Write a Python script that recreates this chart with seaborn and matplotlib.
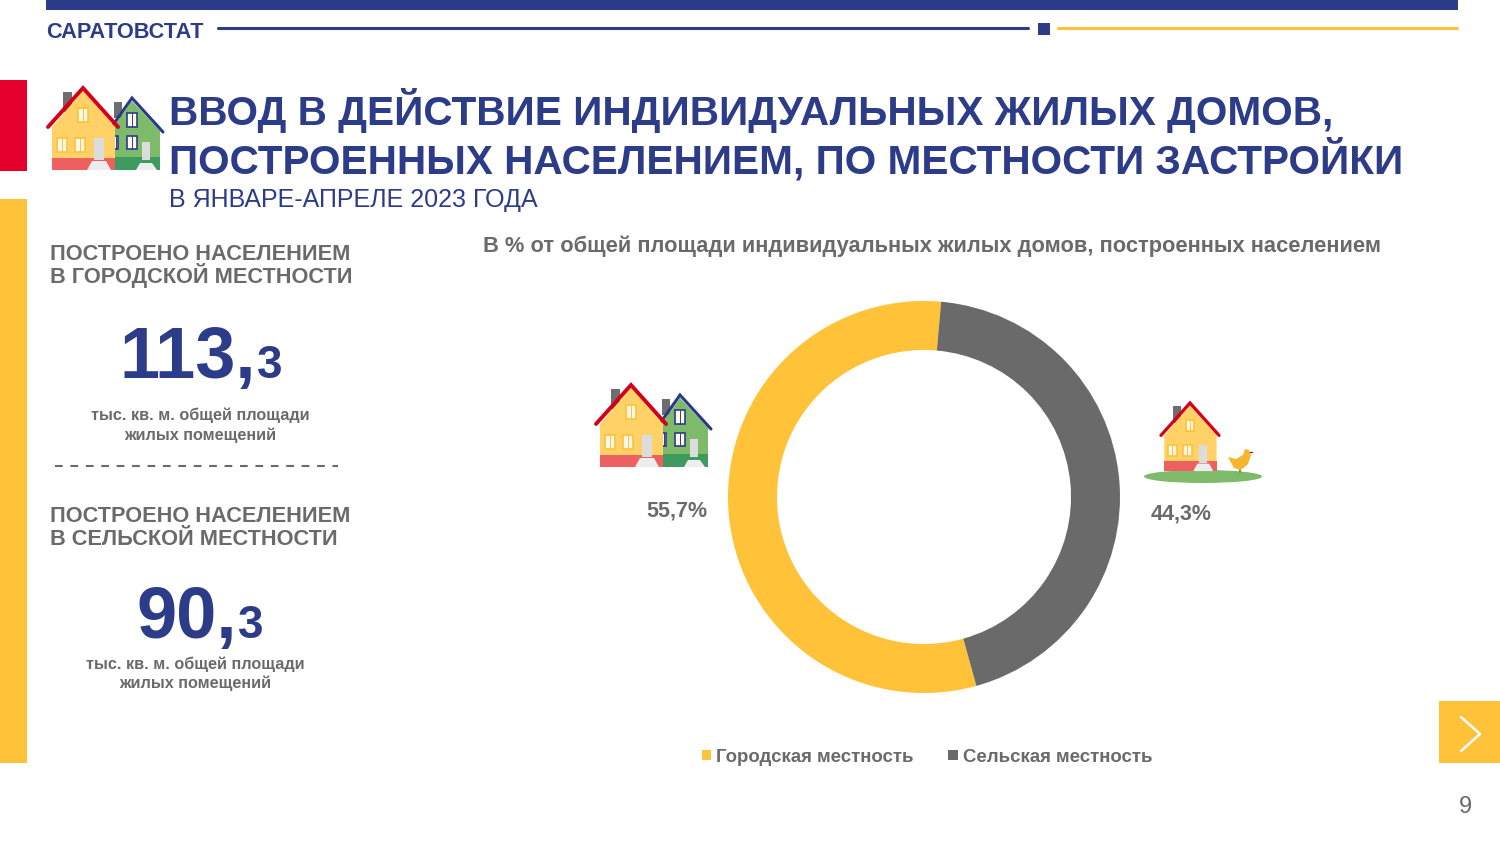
import matplotlib
matplotlib.use("Agg")
import matplotlib.pyplot as plt
import matplotlib.patches as mpatches
import seaborn as sns

# Data
categories = ["Городская местность", "Сельская местность"]
shares = [55.7, 44.3]
share_labels = ["55,7%", "44,3%"]
area_whole = ["113,", "90,"]
area_decimal = ["3", "3"]
urban_header = ["ПОСТРОЕНО НАСЕЛЕНИЕМ", "В ГОРОДСКОЙ МЕСТНОСТИ"]
rural_header = ["ПОСТРОЕНО НАСЕЛЕНИЕМ", "В СЕЛЬСКОЙ МЕСТНОСТИ"]
area_unit = ["тыс. кв. м. общей площади", "жилых помещений"]
title_lines = ["ВВОД В ДЕЙСТВИЕ ИНДИВИДУАЛЬНЫХ ЖИЛЫХ ДОМОВ,", "ПОСТРОЕННЫХ НАСЕЛЕНИЕМ, ПО МЕСТНОСТИ ЗАСТРОЙКИ"]
subtitle_text = "В ЯНВАРЕ-АПРЕЛЕ 2023 ГОДА"
chart_title = "В % от общей площади индивидуальных жилых домов, построенных населением"
org_name = "САРАТОВСТАТ"
page_number = "9"

NAVY = "#2C3C88"
YELLOW = "#FFC238"
GRAY = "#6A6A6A"
RED = "#E4002B"

sns.set_theme(style="white")
plt.rcParams["font.family"] = ["Liberation Sans", "DejaVu Sans"]
palette = sns.color_palette([YELLOW, GRAY])


def rect(ax, x0, y0, x1, y1, color, z=2):
    ax.add_patch(mpatches.Rectangle((x0, y0), x1 - x0, y1 - y0, facecolor=color, edgecolor="none", zorder=z))


def window(ax, x, y, w, h, edge, z=5):
    ax.add_patch(mpatches.Rectangle((x, y), w, h, facecolor="#FFF8E6", edgecolor=edge, linewidth=1.2, zorder=z))
    ax.plot([x + w * 0.45, x + w * 0.45], [y, y + h], color=edge, lw=0.7, zorder=z + 1)


def house(ax, x, y, s, wall, base, roof, frame, z=3):
    # x, y = roof apex, s = scale
    def px(a, b):
        return (x + a * s, y + b * s)
    rect(ax, *px(-20, 4), *px(-11, 24), "#6E6E6E", z)
    ax.add_patch(mpatches.Polygon([px(-31, 39), px(0, 3), px(32, 39), px(32, 82), px(-31, 82)], facecolor=wall, edgecolor="none", zorder=z))
    rect(ax, *px(-31, 70), *px(32, 82), base, z + 1)
    ax.plot(*zip(px(-35, 39), px(0, 0), px(35, 39)), color=roof, lw=2.8 * s, solid_joinstyle="miter", zorder=z + 3)
    window(ax, *px(-5, 20), 10 * s, 14 * s, frame, z + 2)
    window(ax, *px(-26, 50), 10 * s, 14 * s, frame, z + 2)
    window(ax, *px(-8, 50), 10 * s, 14 * s, frame, z + 2)
    rect(ax, *px(11, 50), *px(21, 72), "#DCDCDC", z + 2)
    ax.add_patch(mpatches.Polygon([px(9, 73), px(23, 73), px(28, 82), px(4, 82)], facecolor="#EDEDED", edgecolor="none", zorder=z + 3))


def two_houses(ax, x, y):
    # green one is behind the yellow one
    gx, gy = x + 49, y + 10
    rect(ax, gx - 18, gy + 4, gx - 10, gy + 20, "#6E6E6E", 3)
    ax.add_patch(mpatches.Polygon([(gx - 19, gy + 30), (gx, gy + 3), (gx + 28, gy + 33), (gx + 28, gy + 72), (gx - 19, gy + 72)], facecolor="#7DBB6A", edgecolor="none", zorder=3))
    rect(ax, gx - 19, gy + 59, gx + 28, gy + 72, "#3F9A60", 4)
    ax.plot([gx - 19, gx, gx + 31], [gy + 27, gy, gy + 34], color="#2B3A85", lw=2.2, solid_joinstyle="miter", zorder=6)
    window(ax, gx - 5, gy + 15, 10, 14, NAVY, 7)
    window(ax, gx - 5, gy + 38, 10, 13, NAVY, 7)
    window(ax, gx - 18, gy + 38, 4, 13, NAVY, 7)
    rect(ax, gx + 10, gy + 44, gx + 18, gy + 62, "#DCDCDC", 7)
    ax.add_patch(mpatches.Polygon([(gx + 8, gy + 65), (gx + 20, gy + 65), (gx + 25, gy + 72), (gx + 4, gy + 72)], facecolor="#EDEDED", edgecolor="none", zorder=8))
    house(ax, x, y, 1.0, "#FFD166", "#EE5F5F", "#D4001A", "#FFC238", z=9)


def main():
    fig = plt.figure(figsize=(15, 8.44), dpi=100, facecolor="white")

    # page coordinates layer, in pixels from the top left corner
    bg = fig.add_axes([0, 0, 1, 1])
    bg.set_xlim(0, 1500)
    bg.set_ylim(844, 0)
    bg.axis("off")

    rect(bg, 46, 0, 1458, 10, NAVY)
    bg.plot([218, 1028], [28, 28], color=NAVY, lw=2.2)
    rect(bg, 1038, 23, 1050, 35, NAVY)
    bg.plot([1058, 1457], [28, 28], color=YELLOW, lw=2.2)
    bg.text(46, 38, org_name, color=NAVY, fontsize=15.7, fontweight="bold", va="baseline")
    rect(bg, 0, 80, 27, 171, RED)
    rect(bg, 0, 199, 27, 763, YELLOW)
    rect(bg, 1439, 701, 1500, 763, YELLOW)
    bg.plot([1461, 1480, 1461], [717, 734, 751], color="white", lw=1.8)
    bg.text(1465, 807, page_number, color=GRAY, fontsize=17, ha="center", va="center")

    two_houses(bg, 83, 88)
    two_houses(bg, 631, 385)
    bg.add_patch(mpatches.Ellipse((1203, 476.5), 118, 13, facecolor="#7DBB6A", edgecolor="none", zorder=3))
    house(bg, 1190, 403, 0.83, "#FFD166", "#EE5F5F", "#D4001A", "#FFC238", z=4)
    # chicken
    bg.add_patch(mpatches.Polygon(
        [(1228, 457), (1236, 459), (1243, 455), (1245, 449), (1249, 450), (1251, 455), (1248, 464), (1241, 470), (1234, 468)],
        facecolor="#F5B62E", edgecolor="none", zorder=5))
    bg.plot([1240, 1240], [469, 472], color="#8A6A3A", lw=1.2, zorder=4)
    bg.plot([1250, 1252], [452, 452], color="#D4001A", lw=1.0, zorder=6)

    bg.text(169, 125, title_lines[0], color=NAVY, fontsize=29.2, fontweight="bold", va="baseline")
    bg.text(169, 174, title_lines[1], color=NAVY, fontsize=29.2, fontweight="bold", va="baseline")
    bg.text(169, 207, subtitle_text, color=NAVY, fontsize=18, va="baseline")
    bg.text(483, 252, chart_title, color=GRAY, fontsize=15.77, fontweight="bold", va="baseline")

    # left column numbers
    for y, line in zip([260, 283], urban_header):
        bg.text(50, y, line, color=GRAY, fontsize=15.7, fontweight="bold", va="baseline")
    for y, line in zip([522, 545], rural_header):
        bg.text(50, y, line, color=GRAY, fontsize=15.7, fontweight="bold", va="baseline")
    bg.text(256, 378, area_whole[0], color=NAVY, fontsize=52, fontweight="bold", ha="right", va="baseline")
    bg.text(257, 378, area_decimal[0], color=NAVY, fontsize=33, fontweight="bold", ha="left", va="baseline")
    bg.text(237, 638, area_whole[1], color=NAVY, fontsize=52, fontweight="bold", ha="right", va="baseline")
    bg.text(238, 638, area_decimal[1], color=NAVY, fontsize=33, fontweight="bold", ha="left", va="baseline")
    for y, line in zip([420, 440], area_unit):
        bg.text(200, y, line, color=GRAY, fontsize=11.7, fontweight="bold", ha="center", va="baseline")
    for y, line in zip([669, 688], area_unit):
        bg.text(195, y, line, color=GRAY, fontsize=11.7, fontweight="bold", ha="center", va="baseline")
    bg.plot([55, 338], [466, 466], color=GRAY, lw=1.5, dashes=(3.7, 3.7))

    bg.text(677, 511, share_labels[0], color=GRAY, fontsize=15.5, fontweight="bold", ha="center", va="center")
    bg.text(1181, 514, share_labels[1], color=GRAY, fontsize=15.5, fontweight="bold", ha="center", va="center")

    # donut, centre (924, 497) radius 196 px
    donut = fig.add_axes([(924 - 196) / 1500, 1 - (497 + 196) / 844, 392 / 1500, 392 / 844])
    wedges, _ = donut.pie(
        shares,
        colors=palette,
        startangle=-74.5,
        counterclock=False,
        radius=1.0,
        wedgeprops={"width": 0.25, "edgecolor": "none"},
    )
    donut.set_xlim(-1, 1)
    donut.set_ylim(-1, 1)

    fig.legend(
        wedges,
        categories,
        loc="center",
        bbox_to_anchor=(927 / 1500, 1 - 757 / 844),
        ncol=2,
        frameon=False,
        handlelength=0.5,
        handleheight=0.5,
        handletextpad=0.27,
        columnspacing=1.87,
        labelcolor=GRAY,
        prop={"size": 13.45, "weight": "bold"},
    )

    fig.savefig("out.png", dpi=100, facecolor="white")
    plt.close(fig)


if __name__ == "__main__":
    main()
